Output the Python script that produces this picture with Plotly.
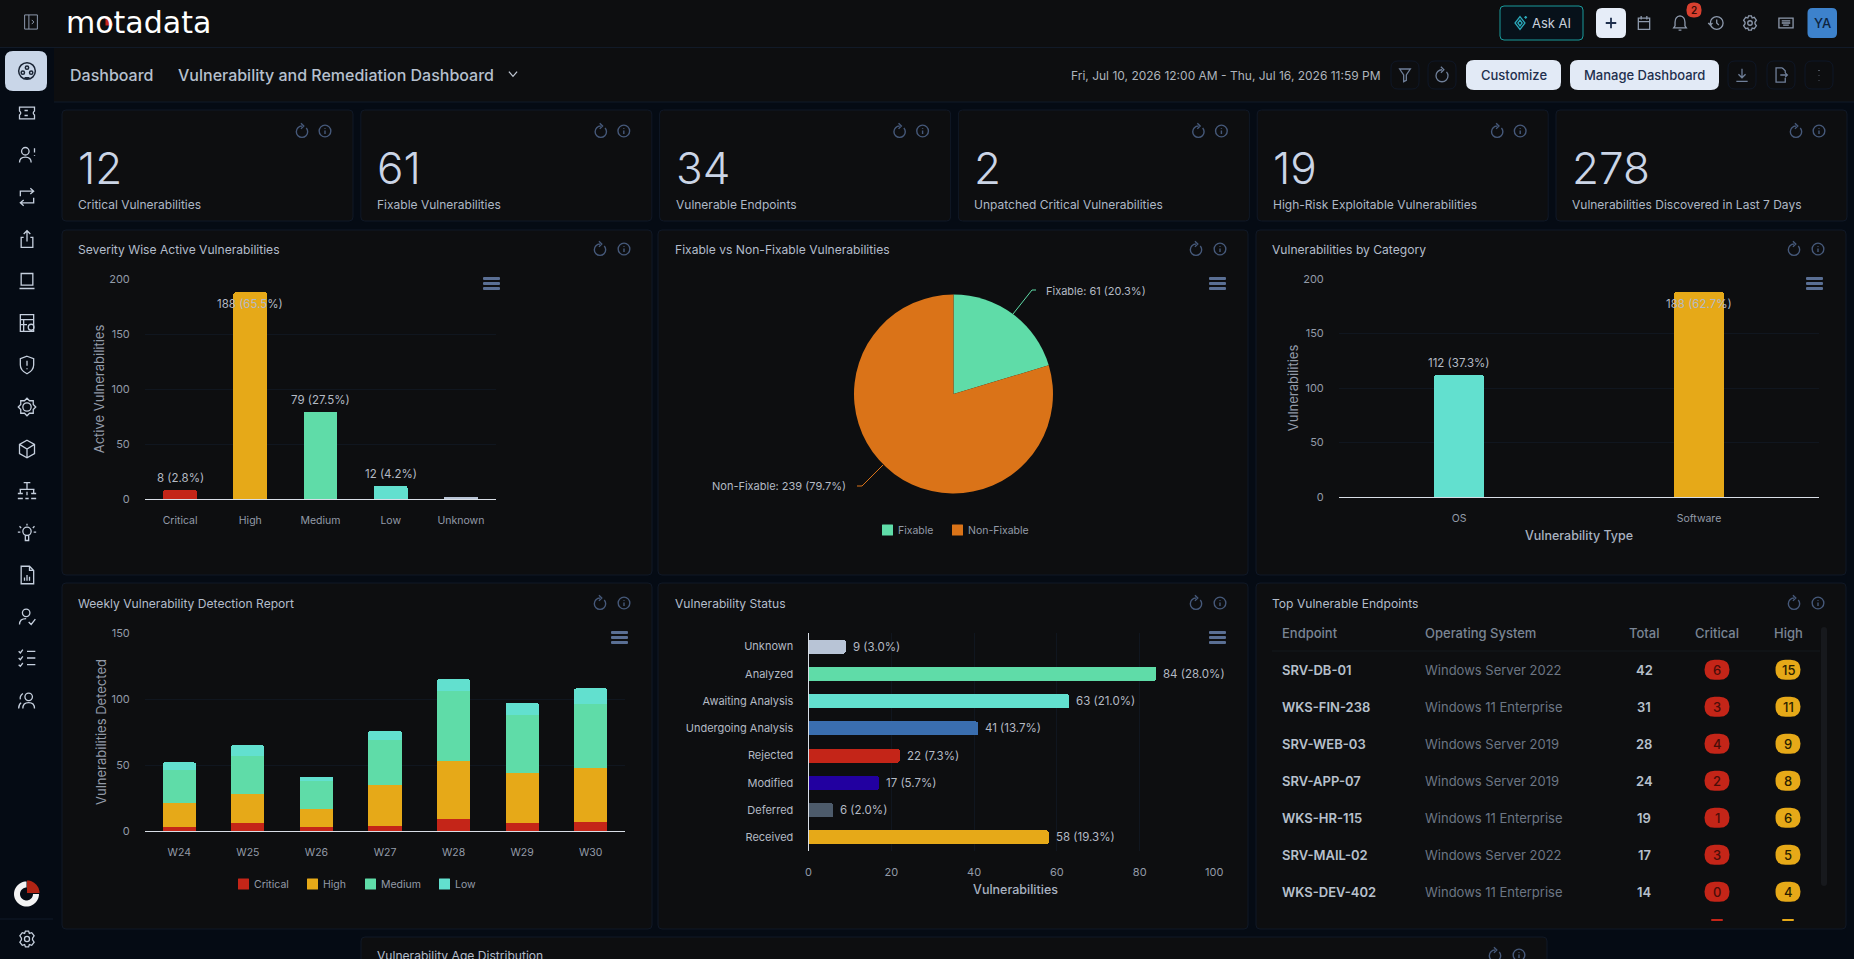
import re

import numpy as np
import plotly.graph_objects as go

W = 1854
H = 959
FONT = "Inter"

PAGE_BG = "#050b14"
CARD_BG = "#0d0e10"
CARD_LINE = "#101826"
GRID = "#10161f"
TICK = "#939ba8"
LABEL = "#b4bac4"
ICON = "#46597a"
BURGER = "#5a6f94"
RED = "#c42518"
AMBER = "#e6a918"
GREEN = "#5fdca8"
TEAL = "#62e0cf"
ORANGE = "#da7318"

# kpi row
kpi_values = ["12", "61", "34", "2", "19", "278"]
kpi_titles = [
    "Critical Vulnerabilities",
    "Fixable Vulnerabilities",
    "Vulnerable Endpoints",
    "Unpatched Critical Vulnerabilities",
    "High-Risk Exploitable Vulnerabilities",
    "Vulnerabilities Discovered in Last 7 Days",
]

# severity chart
severity_names = ["Critical", "High", "Medium", "Low", "Unknown"]
severity_values = [8, 188, 79, 12, 1]
severity_labels = ["8 (2.8%)", "188 (65.5%)", "79 (27.5%)", "12 (4.2%)", ""]
severity_colors = [RED, AMBER, GREEN, TEAL, "#b8c4d6"]

# fixable pie
fix_names = ["Fixable", "Non-Fixable"]
fix_values = [61, 239]
fix_colors = [GREEN, ORANGE]

# category chart
category_names = ["OS", "Software"]
category_values = [112, 188]
category_labels = ["112 (37.3%)", "188 (62.7%)"]
category_colors = [TEAL, AMBER]

# weekly stacked chart
weeks = ["W24", "W25", "W26", "W27", "W28", "W29", "W30"]
weekly_critical = [3, 6, 3, 4, 9, 6, 7]
weekly_high = [18, 22, 14, 31, 44, 38, 41]
weekly_medium = [25, 29, 21, 34, 53, 44, 48]
weekly_low = [6, 8, 3, 7, 9, 9, 12]

# status chart
status_names = ["Unknown", "Analyzed", "Awaiting Analysis", "Undergoing Analysis",
                "Rejected", "Modified", "Deferred", "Received"]
status_values = [9, 84, 63, 41, 22, 17, 6, 58]
status_labels = ["9 (3.0%)", "84 (28.0%)", "63 (21.0%)", "41 (13.7%)",
                 "22 (7.3%)", "17 (5.7%)", "6 (2.0%)", "58 (19.3%)"]
status_colors = ["#b8c4d6", GREEN, TEAL, "#3a6eaf", RED, "#2200a0", "#4d5b6b", AMBER]

# endpoint table
table_headers = ["Endpoint", "Operating System", "Total", "Critical", "High"]
endpoints = ["SRV-DB-01", "WKS-FIN-238", "SRV-WEB-03", "SRV-APP-07",
             "WKS-HR-115", "SRV-MAIL-02", "WKS-DEV-402"]
endpoint_os = ["Windows Server 2022", "Windows 11 Enterprise", "Windows Server 2019",
               "Windows Server 2019", "Windows 11 Enterprise", "Windows Server 2022",
               "Windows 11 Enterprise"]
endpoint_total = [42, 31, 28, 24, 19, 17, 14]
endpoint_critical = [6, 3, 4, 2, 1, 3, 0]
endpoint_high = [15, 11, 9, 8, 6, 5, 4]


def px(x):
    return x / W


def py(y):
    return 1 - y / H


shapes = []
annotations = []


def rrect(x0, y0, x1, y1, r, fill, line=None, layer="above", lw=1):
    d = (
        f"M{px(x0 + r)} {py(y0)} L{px(x1 - r)} {py(y0)} Q{px(x1)} {py(y0)} {px(x1)} {py(y0 + r)} "
        f"L{px(x1)} {py(y1 - r)} Q{px(x1)} {py(y1)} {px(x1 - r)} {py(y1)} "
        f"L{px(x0 + r)} {py(y1)} Q{px(x0)} {py(y1)} {px(x0)} {py(y1 - r)} "
        f"L{px(x0)} {py(y0 + r)} Q{px(x0)} {py(y0)} {px(x0 + r)} {py(y0)} Z"
    )
    shapes.append(dict(type="path", path=d, xref="paper", yref="paper", fillcolor=fill, layer=layer,
                       line=dict(color=line or "rgba(0,0,0,0)", width=lw if line else 0)))


def txt(x, y, text, size=12, color=LABEL, anchor="left", weight=400, family=FONT):
    annotations.append(dict(x=px(x), y=py(y), xref="paper", yref="paper", text=text, showarrow=False,
                            xanchor=anchor, yanchor="middle", borderpad=0, borderwidth=0,
                            font=dict(family=family, size=size, color=color, weight=weight)))


def circ(cx, cy, r):
    k = 0.552 * r
    return (f"M{cx - r} {cy} C{cx - r} {cy - k} {cx - k} {cy - r} {cx} {cy - r} "
            f"C{cx + k} {cy - r} {cx + r} {cy - k} {cx + r} {cy} "
            f"C{cx + r} {cy + k} {cx + k} {cy + r} {cx} {cy + r} "
            f"C{cx - k} {cy + r} {cx - r} {cy + k} {cx - r} {cy} Z ")


def icon(d, cx, cy, size, color, width=1.3, fill="rgba(0,0,0,0)"):
    # d is written on a 24x24 box, moved here to paper coordinates
    out = []
    is_x = True
    for tok in re.findall(r"[MLCQZ]|-?[\d.]+", d):
        if tok in "MLCQZ":
            out.append(tok)
            is_x = True
        elif is_x:
            out.append(str(px(cx + (float(tok) - 12) * size / 24)))
            is_x = False
        else:
            out.append(str(py(cy + (float(tok) - 12) * size / 24)))
            is_x = True
    shapes.append(dict(type="path", path=" ".join(out), xref="paper", yref="paper",
                       fillcolor=fill, line=dict(color=color, width=width), layer="above"))


REFRESH = ("M12 5 C7.5 5 4 8.5 4 13 C4 17.5 7.5 21 12 21 C16.5 21 20 17.5 20 13 "
           "C20 11 19.2 9.2 18 7.8 M10.5 1 L14.5 5 L10.5 9")
INFO = circ(12, 12, 10) + "M12 11 L12 17 M12 7 L12 8"
GEAR = (circ(12, 12, 3.2) + "M10 2 L14 2 L15 5 L18 4 L21 8 L19 11 L19 13 L21 16 L18 20 L15 19 L14 22 "
        "L10 22 L9 19 L6 20 L3 16 L5 13 L5 11 L3 8 L6 4 L9 5 Z")
SIDEBAR = [
    (113, "M3 5 L21 5 L21 9.5 Q18 12 21 14.5 L21 19 L3 19 L3 14.5 Q6 12 3 9.5 Z M9 9 L13 9 M9 15 L13 15"),
    (155, circ(10, 7.5, 4.5) + "M3 21 Q3 14.5 10 14.5 Q17 14.5 17 21 M21 4 L21 9 M21 12 L21 13"),
    (197, "M4 11 L4 5 L20 5 M16 1.5 L20 5 L16 8.5 M20 13 L20 19 L4 19 M8 22.5 L4 19 L8 15.5"),
    (239, "M8 10 L5 10 L5 22 L19 22 L19 10 L16 10 M12 15 L12 2 M8 6 L12 2 L16 6"),
    (281, "M5 3 L19 3 L19 17 L5 17 Z M3 21 L21 21"),
    (323, "M4 2 L20 2 L20 22 L4 22 Z M4 8 L20 8 M4 14 L12 14 M8 8 L8 22" + circ(17, 17, 3.5)),
    (365, "M12 1.5 L20 4.5 L20 12 Q20 18.5 12 22.5 Q4 18.5 4 12 L4 4.5 Z M12 7 L12 13 M12 16 L12 17"),
    (407, "M12 1.5 L15 4.5 L19.5 4.5 L19.5 9 L22.5 12 L19.5 15 L19.5 19.5 L15 19.5 L12 22.5 L9 19.5 "
          "L4.5 19.5 L4.5 15 L1.5 12 L4.5 9 L4.5 4.5 L9 4.5 Z" + circ(12, 12, 5)),
    (449, "M12 1.5 L21 6.5 L21 17.5 L12 22.5 L3 17.5 L3 6.5 Z M3 6.5 L12 12 L21 6.5 M12 12 L12 22.5"),
    (491, "M8 2 L16 2 M12 2 L12 10 M3 10 L21 10 M4 10 L4 15 M20 10 L20 15 M1 15 L7 15 M17 15 L23 15 "
          "M1 21 L7 21 M17 21 L23 21 M10 21 L14 21 M12 13 L12 17"),
    (533, circ(12, 10, 5) + "M10 15 L10 21 L14 21 L14 15 M12 1 L12 3 M3 4 L5 6 M21 4 L19 6 M1 11 L4 11 M20 11 L23 11"),
    (575, "M5 1.5 L15 1.5 L20 6.5 L20 22.5 L5 22.5 Z M15 1.5 L15 6.5 L20 6.5 M9 19 L9 15 M12 19 L12 12 M15 19 L15 14"),
    (617, circ(11, 7, 4.5) + "M3 21 Q3 14 11 14 M14 18 L17 21 L22 14.5"),
    (658, "M2 4 L4 6 L7 2 M2 12 L4 14 L7 10 M2 20 L4 22 L7 18 M12 4 L22 4 M12 12 L22 12 M12 20 L22 20"),
    (701, circ(14, 7, 4.5) + "M7 21 Q7 14 14 14 Q21 14 21 21 M7 3 Q3 6 4 10 M5 14 Q2 16 2 21"),
]

# page frame
shapes.append(dict(type="rect", xref="paper", yref="paper", x0=0, x1=1, y0=py(47), y1=1,
                   fillcolor=CARD_BG, line_width=0, layer="below"))
shapes.append(dict(type="rect", xref="paper", yref="paper", x0=px(54), x1=1, y0=py(102), y1=py(48),
                   fillcolor=CARD_BG, line_width=0, layer="below"))
shapes.append(dict(type="line", xref="paper", yref="paper", x0=0, x1=1, y0=py(47.5), y1=py(47.5),
                   line=dict(color="#111a28", width=1), layer="below"))
shapes.append(dict(type="line", xref="paper", yref="paper", x0=px(54), x1=1, y0=py(102), y1=py(102),
                   line=dict(color="#111a28", width=1), layer="below"))


def card(x0, y0, x1, y1, title=None, title_y=None, title_x=None, icon_y=None):
    rrect(x0, y0, x1, y1, 4, CARD_BG, CARD_LINE, layer="below")
    if title:
        txt(title_x or x0 + 16, title_y, title, 12.1, "#b3bdcb")
    if icon_y:
        icon(REFRESH, x1 - 52, icon_y, 17, ICON, 1.4)
        icon(INFO, x1 - 28, icon_y, 14, ICON, 1.4)


def burger(x0, x1, y0):
    for i in range(3):
        rrect(x0, y0 + i * 5, x1, y0 + i * 5 + 3, 1, BURGER)


# kpi cards
for i, (v, t) in enumerate(zip(kpi_values, kpi_titles)):
    x0 = 62 + 298.8 * i
    card(x0, 110, x0 + 291, 221)
    icon(REFRESH, x0 + 240, 131, 17, ICON, 1.4)
    icon(INFO, x0 + 263, 131, 14, ICON, 1.4)
    txt(x0 + 16, 168, v, 44, "#cbd5e6", weight=300)
    txt(x0 + 16, 205, t, 12, "#aeb8c6")

# chart cards
card(62, 230, 652, 575, "Severity Wise Active Vulnerabilities", 249, icon_y=249)
card(658, 230, 1248, 575, "Fixable vs Non-Fixable Vulnerabilities", 249, 675, icon_y=249)
card(1256, 230, 1846, 575, "Vulnerabilities by Category", 249, 1272, icon_y=249)
card(62, 583, 652, 929, "Weekly Vulnerability Detection Report", 603, icon_y=603)
card(658, 583, 1248, 929, "Vulnerability Status", 603, 675, icon_y=603)
card(1256, 583, 1846, 929, "Top Vulnerable Endpoints", 603, 1272, icon_y=603)
rrect(361, 937, 1547, 975, 4, CARD_BG, CARD_LINE, layer="below")
txt(377, 955, "Vulnerability Age Distribution", 12.1, "#b3bdcb")
icon(REFRESH, 1495, 955, 17, ICON, 1.4)
icon(INFO, 1519, 955, 14, ICON, 1.4)

burger(483, 500, 277)
burger(1209, 1226, 277)
burger(1806, 1823, 277)
burger(611, 628, 631)
burger(1209, 1226, 631)

# top bar
icon("M3 2 L21 2 L21 22 L3 22 Z M9 2 L9 22 M13 9 L16 12 L13 15", 31, 22, 17, "#8d99ac", 1)
txt(66, 23, "motadata", 30, "#ffffff", family="DejaVu Sans")
a = np.radians(np.linspace(0, 90, 10))
logo_wedge = [(105.5, 25.5)] + [(105.5 + 7.5 * np.sin(t), 25.5 - 7.5 * np.cos(t)) for t in a]
shapes.append(dict(type="path", xref="paper", yref="paper", fillcolor="#c42518", line_width=0, layer="above",
                   path="M" + " L".join(f"{px(x)} {py(y)}" for x, y in logo_wedge) + " Z"))
rrect(1500, 6, 1583, 40, 4, "#07111a", "#1a9a9a")
icon("M12 3 L19 12 L12 21 L5 12 Z M12 8 L15 12 L12 16 L9 12 Z M20 2 L20 6 M18 4 L22 4", 1520, 23, 17, "#2aa7b8", 1.3)
txt(1532, 23, "Ask AI", 13, "#c8d0dc")
rrect(1596, 8, 1626, 38, 6, "#e6edf8")
icon("M12 5 L12 19 M5 12 L19 12", 1611, 23, 18, "#1e2f4d", 1.8)
icon("M4 5 L20 5 L20 21 L4 21 Z M4 10 L20 10 M8 2 L8 7 M16 2 L16 7", 1644, 23, 17, "#8d99ac")
icon("M12 2 Q5 3 5 11 L5 16 L3 19 L21 19 L19 16 L19 11 Q19 3 12 2 Z M10 22 L14 22", 1680, 23, 17, "#8d99ac")
icon(circ(13, 12, 9) + "M13 7 L13 12 L16 15 M1 12 L4 15 L7 12", 1716, 23, 17, "#8d99ac")
icon(GEAR, 1750, 23, 17, "#8d99ac")
icon("M2 5 L22 5 L22 19 L2 19 Z M6 9 L18 9 M6 12 L18 12 M8 15 L16 15", 1786, 23, 17, "#8d99ac")
rrect(1686.5, 2.5, 1701.5, 17.5, 7, "#d9402f")
txt(1694, 10, "2", 10, "#3a0c07", "center", 600)
rrect(1807.5, 8, 1837, 38, 5, "#3d82cc")
txt(1822, 23, "YA", 13, "#0d2440", "center", 500)

# dashboard bar
txt(70, 75, "Dashboard", 16, "#b6c0ce", weight=500)
txt(178, 75, "Vulnerability and Remediation Dashboard", 16, "#b6c0ce", weight=500)
icon("M5 8 L12 16 L19 8", 513, 74, 14, "#c0c8d4", 1.3)
txt(1381, 75, "Fri, Jul 10, 2026 12:00 AM - Thu, Jul 16, 2026 11:59 PM", 12, "#aeb4bc", "right")
for bx in [1405, 1442, 1742, 1781, 1819]:
    rrect(bx - 14, 61, bx + 14, 89, 7, CARD_BG, "#0f1726")
icon("M4 3 L20 3 L14 12 L14 20 L10 22 L10 12 Z", 1405, 75, 16, "#6f7f99")
icon(REFRESH, 1442, 75, 18, "#6f7f99")
icon("M12 3 L12 15 M7 11 L12 16 L17 11 M4 21 L20 21", 1742, 75, 17, "#6f7f99")
icon("M14 2 L5 2 L5 22 L18 22 L18 16 M14 2 L18 6 L18 9 M11 12 L21 12 M18 9 L21 12 L18 15", 1781, 75, 17, "#6f7f99")
icon("M12 5 L12 5.5 M12 12 L12 12.5 M12 19 L12 19.5", 1819, 75, 17, "#8d99ac", 2)
rrect(1466, 60, 1561, 90, 8, "#e2eaf6")
txt(1513.5, 75, "Customize", 13, "#1e2f4d", "center", 500)
rrect(1570, 60, 1719, 90, 8, "#e2eaf6")
txt(1644.5, 75, "Manage Dashboard", 13, "#1e2f4d", "center", 500)

# sidebar
rrect(5, 51, 47, 91, 8, "#c9d6e8")
icon(circ(12, 12, 10) + circ(12, 8, 2) + circ(7, 14, 2) + circ(17, 14, 2) + "M9 20 L15 20", 27, 71, 20, "#1b2535", 1.5)
for y, d in SIDEBAR:
    icon(d, 27, y, 20, "#c6d0de", 1.3)
shapes.append(dict(type="line", xref="paper", yref="paper", x0=0, x1=px(53), y0=py(919), y1=py(919),
                   line=dict(color="#111a28", width=1), layer="below"))
icon(GEAR, 27, 939, 19, "#c6d0de", 1.3)

# round product mark at the bottom of the sidebar
a = np.radians(np.linspace(0, 270, 40))
ring = [(26.5 - 12.5 * np.sin(t), 894 - 12.5 * np.cos(t)) for t in a]
ring += [(26.5 - 6.5 * np.sin(t), 894 - 6.5 * np.cos(t)) for t in a[::-1]]
shapes.append(dict(type="path", xref="paper", yref="paper", fillcolor="#f4f4f4", line_width=0, layer="above",
                   path="M" + " L".join(f"{px(x)} {py(y)}" for x, y in ring) + " Z"))
a = np.radians(np.linspace(0, 90, 14))
wedge = [(27, 893)] + [(27 + 12.5 * np.sin(t), 893 - 12.5 * np.cos(t)) for t in a]
shapes.append(dict(type="path", xref="paper", yref="paper", fillcolor="#b02414", line_width=0, layer="above",
                   path="M" + " L".join(f"{px(x)} {py(y)}" for x, y in wedge) + " Z"))

# pie callouts
shapes.append(dict(type="path", xref="paper", yref="paper", layer="above", line=dict(color=GREEN, width=1),
                   path=f"M{px(1013)} {py(314)} L{px(1032)} {py(290)} L{px(1036)} {py(290)}"))
shapes.append(dict(type="path", xref="paper", yref="paper", layer="above", line=dict(color=ORANGE, width=1),
                   path=f"M{px(883)} {py(465)} L{px(862)} {py(486)} L{px(857)} {py(486)}"))
txt(1046, 291, f"{fix_names[0]}: {fix_values[0]} (20.3%)", 11, LABEL)
txt(846, 486, f"{fix_names[1]}: {fix_values[1]} (79.7%)", 11, LABEL, "right")

# hand placed legends, same swatch size as the dashboard
for name, color, sx in zip(fix_names, fix_colors, [882, 952]):
    rrect(sx, 524.5, sx + 11, 535.5, 0.5, color)
    txt(sx + 16, 530, name, 10.5, TICK)
for name, color, sx in zip(["Critical", "High", "Medium", "Low"], [RED, AMBER, GREEN, TEAL], [238, 307, 365, 439]):
    rrect(sx, 878.5, sx + 11, 889.5, 0.5, color)
    txt(sx + 16, 884, name, 10.5, TICK)

# table
COLS = [1282, 1425, 1644, 1717, 1788]
for c, name, anchor in zip(COLS, table_headers, ["left", "left", "center", "center", "center"]):
    txt(c, 633, name, 13, "#7a8594", anchor, 500)
shapes.append(dict(type="line", xref="paper", yref="paper", x0=px(1272), x1=px(1820), y0=py(651), y1=py(651),
                   line=dict(color="#15181d", width=1), layer="below"))
for i in range(len(endpoints)):
    y = 669.7 + 37 * i
    txt(COLS[0], y, endpoints[i], 13, "#b7c0cc", weight=600)
    txt(COLS[1], y, endpoint_os[i], 13, "#6c7684")
    txt(COLS[2], y, str(endpoint_total[i]), 13, "#b7c0cc", "center", 600)
    rrect(COLS[3] - 12.5, y - 10, COLS[3] + 12.5, y + 10, 10, RED)
    txt(COLS[3], y, str(endpoint_critical[i]), 13, "#4a0d08", "center", 500)
    rrect(COLS[4] - 12.5, y - 10, COLS[4] + 12.5, y + 10, 10, AMBER)
    txt(COLS[4], y, str(endpoint_high[i]), 13, "#2b1e00", "center", 500)
rrect(COLS[3] - 6, 919, COLS[3] + 6, 921, 1, RED)
rrect(COLS[4] - 6, 919, COLS[4] + 6, 921, 1, AMBER)
rrect(1821, 627, 1827, 886, 3, "#17191d")

fig = go.Figure()

fig.add_trace(go.Bar(x=severity_names, y=severity_values, marker_color=severity_colors, marker_line_width=0,
                     width=0.48, xaxis="x", yaxis="y", hoverinfo="x+y"))
fig.add_trace(go.Bar(x=category_names, y=category_values, marker_color=category_colors, marker_line_width=0,
                     width=0.208, xaxis="x2", yaxis="y2", hoverinfo="x+y"))
for vals, color, name in zip([weekly_critical, weekly_high, weekly_medium, weekly_low],
                             [RED, AMBER, GREEN, TEAL], ["Critical", "High", "Medium", "Low"]):
    fig.add_trace(go.Bar(x=weeks, y=vals, name=name, marker_color=color, marker_line_width=0, width=0.485,
                         xaxis="x3", yaxis="y3"))
fig.add_trace(go.Bar(y=status_names, x=status_values, orientation="h", marker_color=status_colors,
                     marker_line_width=0, width=0.51, xaxis="x4", yaxis="y4", hoverinfo="x+y"))
fig.add_trace(go.Pie(labels=fix_names, values=fix_values, sort=False, direction="clockwise", rotation=0,
                     marker=dict(colors=fix_colors, line=dict(width=0)), textinfo="none",
                     domain=dict(x=[px(854), px(1053)], y=[py(493.5), py(294.5)])))


def x_axis(x0, x1, anchor, **kw):
    base = dict(domain=[px(x0), px(x1)], anchor=anchor, type="category", showgrid=False, zeroline=False,
                showline=True, linecolor="#d8dee6", linewidth=1, ticks="outside", ticklen=11,
                tickcolor="rgba(0,0,0,0)", tickfont=dict(family=FONT, size=10.5, color=TICK), fixedrange=True)
    base.update(kw)
    return base


def y_axis(y_top, y_bottom, anchor, top, step, title):
    return dict(domain=[py(y_bottom), py(y_top)], anchor=anchor, range=[0, top], tickmode="linear", tick0=0,
                dtick=step, gridcolor=GRID, gridwidth=1, zeroline=False, showline=False, ticks="outside",
                ticklen=12, tickcolor="rgba(0,0,0,0)", tickfont=dict(family=FONT, size=11, color=TICK),
                title=dict(text=title, standoff=1, font=dict(family=FONT, size=13, color=TICK)),
                fixedrange=True)


AXIS_TITLE = dict(family=FONT, size=12.5, color="#a9b3c1", weight=500)

fig.update_layout(
    width=W,
    height=H,
    margin=dict(l=0, r=0, t=0, b=0, autoexpand=False),
    paper_bgcolor=PAGE_BG,
    plot_bgcolor="rgba(0,0,0,0)",
    barmode="stack",
    barcornerradius=2,
    showlegend=False,
    shapes=shapes,
    xaxis=x_axis(145, 496, "y"),
    yaxis=y_axis(279, 499, "x", 200, 50, "Active Vulnerabilities"),
    xaxis2=x_axis(1339, 1819, "y2", title=dict(text="Vulnerability Type", standoff=7, font=AXIS_TITLE)),
    yaxis2=y_axis(279, 497, "x2", 200, 50, "Vulnerabilities"),
    xaxis3=x_axis(145, 625, "y3"),
    yaxis3=y_axis(633, 831, "x3", 150, 50, "Vulnerabilities Detected"),
    xaxis4=dict(domain=[px(808.5), px(1222.5)], anchor="y4", range=[0, 100], tickmode="array",
                tickvals=[0, 20, 40, 60, 80, 100], ticktext=["0", "20", "40", "60", "80", ""], gridcolor=GRID,
                zeroline=False, showline=False, ticks="outside", ticklen=11, tickcolor="rgba(0,0,0,0)",
                tickfont=dict(family=FONT, size=11, color=TICK),
                title=dict(text="Vulnerabilities", standoff=7, font=AXIS_TITLE), fixedrange=True),
    yaxis4=dict(domain=[py(851), py(633)], anchor="x4", type="category", autorange="reversed", showgrid=False,
                zeroline=False, showline=True, linecolor="#d8dee6", linewidth=1, ticks="outside", ticklen=12,
                tickcolor="rgba(0,0,0,0)", tickfont=dict(family=FONT, size=11, color=LABEL), fixedrange=True),
)

# value labels sit on the bars, flipped inside when there is no room on top
for name, v, label in zip(severity_names, severity_values, severity_labels):
    if label:
        annotations.append(dict(x=name, y=v, xref="x", yref="y", text=label, showarrow=False,
                                yshift=-12 if v > 150 else 12, yanchor="middle",
                                font=dict(family=FONT, size=11.5, color=LABEL)))
for name, v, label in zip(category_names, category_values, category_labels):
    annotations.append(dict(x=name, y=v, xref="x2", yref="y2", text=label, showarrow=False,
                            yshift=-12 if v > 150 else 12, yanchor="middle",
                            font=dict(family=FONT, size=11.5, color=LABEL)))
for name, v, label in zip(status_names, status_values, status_labels):
    annotations.append(dict(x=v, y=name, xref="x4", yref="y4", text=label, showarrow=False, xanchor="left",
                            xshift=5, yanchor="middle", font=dict(family=FONT, size=11.5, color=LABEL)))
# the last tick label is pulled back inside the card
annotations.append(dict(x=100, y=py(872), xref="x4", yref="paper", text="100", showarrow=False, xshift=-9,
                        yanchor="middle", font=dict(family=FONT, size=11, color=TICK)))

fig.update_layout(annotations=annotations)

fig.write_html("out.html", config=dict(displayModeBar=False),
               post_script="document.body.style.margin='0';document.body.style.background='#050b14';"
                           "document.body.style.overflow='hidden';")
